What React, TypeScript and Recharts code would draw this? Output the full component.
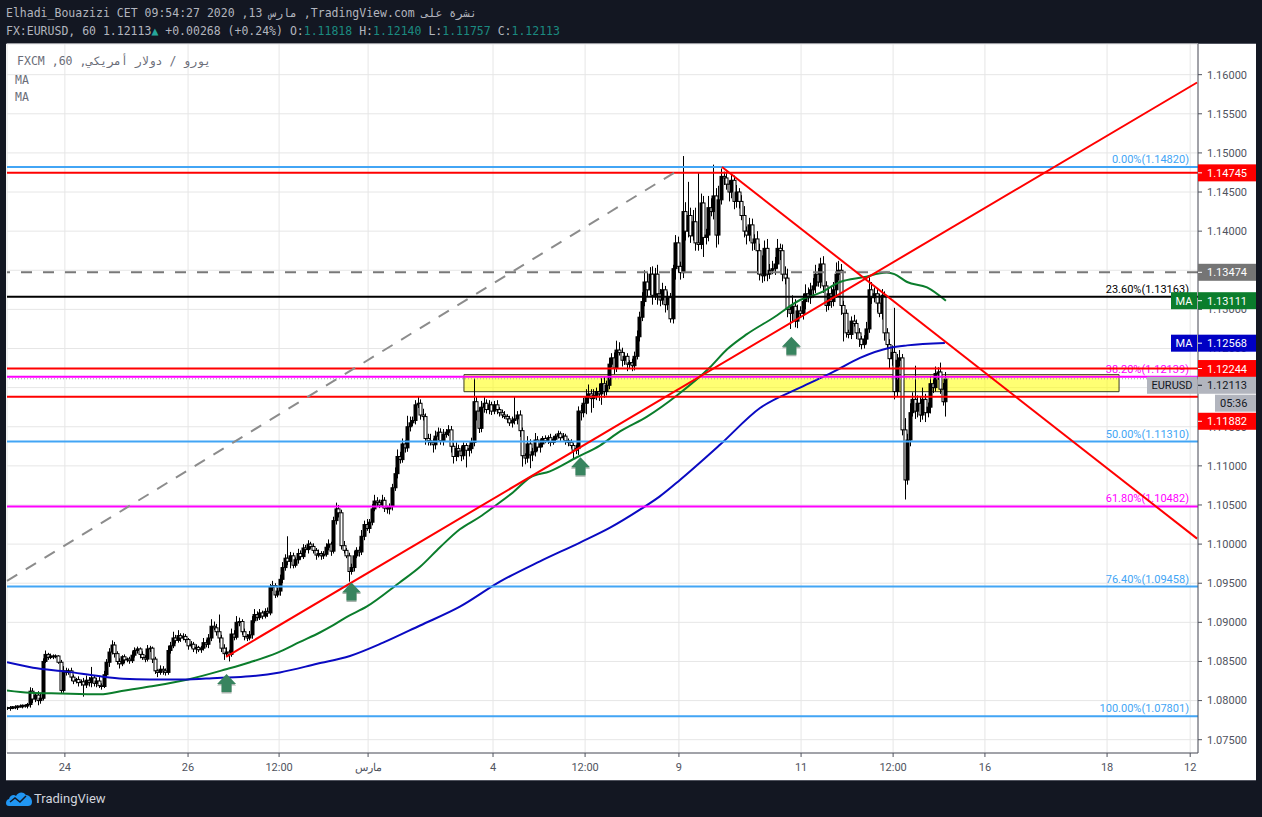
import { Bar, CartesianGrid, ComposedChart, Line, ReferenceArea, ReferenceDot, ReferenceLine, XAxis, YAxis } from "recharts";

// all prices in 1/10000 ("pips"), one candle per hour, open = previous close
const closePips = [
    10791,10790,10792,10791,10793,10792,10794,10793,10795,10812,
    10802,10807,10800,10803,10850,10859,10855,10857,10856,10857,
    10849,10813,10838,10836,10838,10830,10825,10827,10823,10824,
    10820,10826,10823,10829,10822,10825,10819,10818,10833,10849,
    10862,10871,10860,10850,10847,10856,10852,10853,10851,10858,
    10864,10866,10859,10855,10853,10866,10867,10853,10838,10836,
    10840,10838,10836,10864,10870,10880,10877,10883,10880,10882,
    10878,10870,10872,10866,10868,10865,10867,10874,10872,10880,
    10895,10893,10888,10880,10867,10860,10862,10859,10885,10881,
    10900,10901,10888,10882,10880,10884,10902,10910,10906,10912,
    10908,10914,10912,10945,10947,10935,10940,10955,10970,10982,
    10978,10985,10973,10980,10988,10984,10995,10993,11000,10997,
    10992,10986,10988,10985,10987,10996,11000,10991,11030,11045,
    11040,10998,10992,10985,10965,10970,10985,10992,10990,11010,
    11025,11020,11028,11045,11055,11053,11050,11056,11046,11045,
    11048,11072,11090,11112,11108,11128,11123,11150,11155,11158,
    11178,11180,11165,11163,11135,11132,11130,11127,11138,11143,
    11132,11140,11143,11146,11125,11112,11122,11119,11113,11126,
    11120,11122,11130,11182,11170,11148,11175,11180,11172,11178,
    11170,11178,11172,11168,11165,11163,11160,11155,11158,11160,
    11165,11145,11113,11110,11128,11114,11118,11133,11124,11128,
    11135,11132,11136,11130,11134,11138,11141,11136,11138,11132,
    11130,11126,11120,11122,11170,11168,11180,11188,11192,11186,
    11190,11195,11192,11205,11195,11203,11230,11238,11225,11248,
    11245,11235,11240,11230,11232,11228,11240,11265,11290,11310,
    11335,11325,11345,11318,11345,11320,11312,11325,11306,11315,
    11288,11352,11385,11355,11347,11425,11400,11420,11394,11412,
    11385,11383,11436,11392,11395,11430,11425,11445,11395,11440,
    11470,11468,11460,11450,11465,11438,11450,11438,11420,11400,
    11395,11408,11385,11390,11375,11345,11343,11378,11345,11350,
    11352,11358,11378,11375,11345,11340,11300,11295,11304,11285,
    11298,11295,11310,11320,11315,11325,11330,11345,11335,11358,
    11330,11305,11320,11310,11325,11345,11350,11305,11295,11270,
    11268,11285,11282,11270,11262,11255,11262,11275,11325,11315,
    11320,11308,11295,11318,11270,11255,11237,11245,11195,11235,
    11238,11146,11082,11133,11168,11185,11170,11180,11165,11185,
    11168,11175,11205,11200,11218,11220,11198,11182,11211,
];

const wickUp = [
    1,2,1,2,1,2,1,1,2,5,
    4,3,5,6,4,5,2,3,2,2,
    1,3,6,4,3,4,3,2,4,3,
    5,6,4,14,3,4,5,3,5,4,
    5,6,4,3,4,2,3,2,3,5,
    4,3,2,4,3,5,3,2,3,2,
    5,4,3,6,5,8,4,7,3,4,
    3,2,4,3,4,2,3,6,4,5,
    9,6,5,22,4,5,6,3,7,5,
    8,5,3,4,3,5,6,7,4,5,
    3,4,5,4,6,3,4,6,7,5,
    28,5,4,3,6,4,5,4,5,3,
    4,3,5,3,4,5,6,3,5,8,
    5,4,6,3,4,5,6,4,5,8,
    5,7,4,6,8,5,4,7,4,3,
    4,5,8,9,6,7,5,14,8,5,
    6,9,5,8,4,6,9,5,7,6,
    5,7,4,6,5,4,8,5,6,4,
    3,5,6,30,6,5,8,9,5,6,
    4,5,6,3,4,5,3,4,5,28,
    5,6,4,3,10,6,5,9,5,6,
    3,4,3,5,4,3,4,3,4,3,
    3,4,3,5,6,8,7,10,12,6,
    8,5,10,7,9,6,8,6,7,12,
    10,6,5,4,3,5,6,8,7,12,
    15,12,9,10,8,12,6,9,5,8,
    6,5,10,8,6,71,12,43,10,15,
    18,90,12,9,8,15,12,40,10,18,
    10,6,8,5,8,6,9,5,8,12,
    6,9,8,6,10,9,24,10,12,8,
    10,9,12,6,8,10,12,5,14,9,
    8,6,10,12,8,9,10,12,8,8,
    10,6,8,9,10,15,12,8,6,5,
    4,6,8,5,6,4,5,9,16,10,
    8,6,12,8,5,6,7,9,57,8,
    10,5,15,8,12,9,43,10,8,15,
    7,6,10,8,9,6,12,8,9,
];

const wickDown = [
    2,3,1,2,3,1,2,2,3,4,
    5,4,6,4,3,2,3,2,3,2,
    2,4,3,4,3,5,4,3,5,4,
    15,4,5,6,4,5,3,4,2,4,
    6,3,5,4,6,3,4,3,4,3,
    3,4,5,3,4,3,4,5,4,6,
    3,5,4,3,4,3,4,3,5,3,
    4,5,3,4,6,3,4,3,4,5,
    4,3,5,6,5,8,4,9,3,4,
    3,5,4,5,4,3,5,3,4,3,
    4,3,5,3,5,4,3,6,5,4,
    5,9,4,3,5,4,3,4,5,3,
    4,6,3,5,4,3,4,6,3,5,
    6,5,4,3,13,4,5,3,6,4,
    5,3,6,4,3,5,4,3,5,6,
    7,5,4,6,5,4,6,5,6,4,
    5,4,6,5,8,6,4,10,6,5,
    5,6,4,5,8,9,6,8,7,5,
    22,8,6,5,12,6,5,7,5,6,
    5,4,6,5,4,3,5,4,6,5,
    7,8,14,8,6,17,8,6,5,7,
    4,3,4,5,3,4,3,4,3,5,
    5,4,12,5,8,10,6,14,8,18,
    12,6,9,14,8,5,5,4,8,5,
    4,8,6,9,5,7,6,4,6,5,
    6,8,7,12,6,14,8,6,10,7,
    5,6,14,8,9,7,12,8,9,6,
    10,8,6,25,9,8,6,10,16,12,
    6,9,7,12,8,10,8,9,6,8,
    12,8,10,9,30,8,9,7,9,6,
    5,8,6,12,9,8,10,20,12,8,
    9,6,8,10,6,8,10,9,6,8,
    9,8,6,8,6,10,8,12,36,6,
    5,6,4,8,10,6,5,6,5,8,
    6,12,5,8,10,6,12,9,10,6,
    8,7,25,6,8,5,10,8,9,6,
    12,6,8,7,5,8,6,5,19,
];

const greenMaBars = [0,9,20.8,36.5,46.3,56,71,85.9,95.3,105.9,114.9,122.7,127.8,133.3,141,154,162,169.8,177.6,185.5,190.6,198.4,205.1,212.9,223.5,232.5,240.4,251,262.7,275.7,282.4,290,300.4,311,318.8,326.7,335.7,345,348,353,360.8,368.2];
const greenMaPips = [10813,10810,10809,10808,10813,10818,10827,10840,10849,10861,10875,10887,10896,10907,10920,10951,10971,10996,11019,11035,11047,11066,11085,11093,11111,11126,11144,11163,11190,11226,11249,11268,11289,11312,11321,11335,11341,11347,11345,11335,11328,11311];
const blueMaBars = [0,10.2,23.5,36.5,45.5,56,69,82.4,95.3,107,121.6,134.5,147.5,162,177.6,193.3,209,224.7,236.5,248.2,256,263.9,279.6,295.3,311,324,334.5,346.3,353,367.8];
const blueMaPips = [10849,10842,10837,10831,10828,10827,10827,10829,10831,10836,10847,10857,10874,10896,10920,10952,10978,11002,11021,11044,11061,11082,11127,11174,11200,11220,11238,11251,11254,11257];

// x axis
const xTicks = [22.7,71,106.7,141.6,190.6,226.7,263.5,311.4,347.5,383.5,431.4,464];
const xTickLabels = ["24","26","12:00","مارس","4","12:00","9","11","12:00","16","18","12"];
const yTicks = [1.075,1.08,1.085,1.09,1.095,1.1,1.105,1.11,1.115,1.12,1.125,1.13,1.135,1.14,1.145,1.15,1.155,1.16];

// fib levels
const fibPrices = [1.1482,1.13163,1.12139,1.1131,1.10482,1.09458,1.07801];
const fibLabels = ["0.00%(1.14820)","23.60%(1.13163)","38.20%(1.12139)","50.00%(1.11310)","61.80%(1.10482)","76.40%(1.09458)","100.00%(1.07801)"];
const redLevels = [1.14745,1.12244,1.11882];

// drawings, bar position + price
const dashedTrend = [{ x: 0, y: 1.0953 }, { x: 264.3, y: 1.148 }];
const riseTrend = [{ x: 85.9, y: 1.0856 }, { x: 466.7, y: 1.159 }];
const fallTrend = [{ x: 280.4, y: 1.1482 }, { x: 466.7, y: 1.1007 }];
const zoneBars = [179.2, 436.1];
const zonePrices = [1.11948, 1.12166];
const arrowBars = [86.1, 135.1, 224.9, 307.6];
const arrowPrices = [1.0834, 1.0951, 1.1111, 1.1265];

const xMax = 467.06;
const candles = closePips.map((close, index) => {
    const open = index === 0 ? 10790 : closePips[index - 1];
    const high = Math.max(open, close) + (wickUp[index] ?? 3);
    const low = Math.min(open, close) - (wickDown[index] ?? 3);
    return { index, open, close, high, low, range: [low / 10000, high / 10000] };
});
const greenMa = greenMaBars.map((index, i) => ({ index, value: greenMaPips[i] / 10000 }));
const blueMa = blueMaBars.map((index, i) => ({ index, value: blueMaPips[i] / 10000 }));

const fibColors = ["#42a5f5", "#000000", "#ff00ff", "#42a5f5", "#ff00ff", "#42a5f5", "#42a5f5"];
const axisFont = "Roboto, sans-serif";
const monoFont = "'DejaVu Sans Mono', monospace";

const Candle = (props: any) => {
    const { x, y, width, height, payload } = props;
    const top = Math.min(y, y + height);
    const perPip = Math.abs(height) / (payload.high - payload.low);
    const bodyTop = top + (payload.high - Math.max(payload.open, payload.close)) * perPip;
    const bodyBottom = top + (payload.high - Math.min(payload.open, payload.close)) * perPip;
    const cx = Math.round(x + width / 2);
    const rising = payload.close >= payload.open;
    return (
        <g>
            <line x1={cx + 0.5} x2={cx + 0.5} y1={top} y2={top + Math.abs(height)} stroke="#000" />
            <rect x={cx - 1} y={bodyTop} width={3} height={Math.max(bodyBottom - bodyTop, 0.5)} fill={rising ? "#000" : "#fff"} stroke="#000" />
        </g>
    );
};

const FibLabel = ({ viewBox, text, color }: any) => (
    <text x={viewBox.x + viewBox.width - 9} y={viewBox.y - 4} textAnchor="end" fontSize={11} fontFamily={axisFont} fill={color}>
        {text}
    </text>
);

const Arrow = ({ cx, cy }: any) => {
    const pts = (dx: number, dy: number) =>
        [[0, 0], [9.5, 10], [5, 10], [5, 18], [-5, 18], [-5, 10], [-9.5, 10]].map(([a, b]) => `${cx + a + dx},${cy + b + dy}`).join(" ");
    return (
        <g>
            <polygon points={pts(0, 1.5)} fill="#a9b4ae" />
            <polygon points={pts(0, 0)} fill="#38845f" />
        </g>
    );
};

const Badge = ({ cx, cy, text, fill, color = "#fff", tag, tagWidth = 26, from = 0 }: any) => (
    <g>
        <rect x={cx + from} y={cy - 8.5} width={58 - from} height={17} fill={fill} />
        {from === 0 && <line x1={cx} x2={cx + 4} y1={cy} y2={cy} stroke={color} />}
        <text x={from === 0 ? cx + 9 : cx + from + 5} y={cy + 4} fontSize={11} fontFamily={axisFont} fill={color}>{text}</text>
        {tag && <rect x={cx - tagWidth - 1} y={cy - 8.5} width={tagWidth} height={17} fill={fill} />}
        {tag && <text x={cx - tagWidth / 2 - 1} y={cy + 4} textAnchor="middle" fontSize={11} fontFamily={axisFont} fill={color}>{tag}</text>}
    </g>
);

const badgeZ = 2000;

const App = () => {
    return (
        <div style={{ position: "fixed", left: 0, top: 0, width: 1262, height: 817, background: "#131722", overflow: "hidden" }}>
            <div style={{ position: "absolute", left: 6, top: 43, width: 1250, height: 738, background: "#fff", borderTop: "1px solid #50535e", borderBottom: "1px solid #50535e", boxSizing: "border-box" }} />

            <div style={{ position: "absolute", left: 6, top: 6, display: "flex", gap: 7, fontFamily: monoFont, fontSize: 11.5, lineHeight: "14px", color: "#b2b5be", whiteSpace: "nowrap" }}>
                <span>Elhadi_Bouazizi</span>
                <span dir="rtl">نشرة على TradingView.com, مارس 13, 2020 09:54:27 CET</span>
            </div>
            <div style={{ position: "absolute", left: 6, top: 24, fontFamily: monoFont, fontSize: 11.5, lineHeight: "14px", color: "#b2b5be", whiteSpace: "nowrap" }}>
                FX:EURUSD, 60 1.12113<span style={{ color: "#26a69a" }}>▲</span> +0.00268 (+0.24%) O:<span style={{ color: "#1b8a80" }}>1.11818</span> H:<span style={{ color: "#1b8a80" }}>1.12140</span> L:<span style={{ color: "#1b8a80" }}>1.11757</span> C:<span style={{ color: "#1b8a80" }}>1.12113</span>
            </div>

            <ComposedChart
                width={1262}
                height={817}
                data={candles}
                margin={{ top: 44, right: 0, bottom: 0, left: 7 }}
                style={{ position: "absolute", left: 0, top: 0 }}
            >
                <CartesianGrid stroke="#e6e6e6" />
                <XAxis
                    dataKey="index"
                    type="number"
                    domain={[0, xMax]}
                    ticks={xTicks}
                    interval={0}
                    height={64}
                    allowDataOverflow
                    stroke="#50535e"
                    tickSize={4}
                    tickMargin={6}
                    tick={{ fontSize: 11, fontFamily: axisFont, fill: "#50535e" }}
                    tickFormatter={(value: number) => xTickLabels[xTicks.indexOf(value)]}
                />
                <YAxis
                    orientation="right"
                    type="number"
                    domain={[1.0733, 1.16392]}
                    ticks={yTicks}
                    interval={0}
                    width={64}
                    allowDataOverflow
                    stroke="#50535e"
                    tickSize={4}
                    tickMargin={5}
                    tick={{ fontSize: 11, fontFamily: axisFont, fill: "#50535e", textAnchor: "start" }}
                    tickFormatter={(value: number) => value.toFixed(5)}
                />
                <Bar dataKey="range" barSize={3} shape={Candle} isAnimationActive={false} />
                <Line data={greenMa} dataKey="value" type="monotone" stroke="#0b7d2c" strokeWidth={2} dot={false} activeDot={false} isAnimationActive={false} />
                <Line data={blueMa} dataKey="value" type="monotone" stroke="#0a0ac2" strokeWidth={2} dot={false} activeDot={false} isAnimationActive={false} />

                {fibPrices.map((price, i) => (
                    <ReferenceLine
                        key={fibLabels[i]}
                        y={price}
                        stroke={fibColors[i]}
                        strokeWidth={2}
                        label={<FibLabel text={fibLabels[i]} color={fibColors[i]} />}
                    />
                ))}
                {redLevels.map((price) => (
                    <ReferenceLine key={price} y={price} stroke="#ff0000" strokeWidth={2} />
                ))}
                <ReferenceLine y={1.13474} stroke="#787878" strokeWidth={2} strokeDasharray="11 11" />
                <ReferenceLine y={1.12113} stroke="#a0a3ab" strokeDasharray="1 2" />
                <ReferenceLine segment={dashedTrend} stroke="#8c8c8c" strokeWidth={2} strokeDasharray="12 10" />
                <ReferenceLine segment={riseTrend} stroke="#ff0000" strokeWidth={2} />
                <ReferenceLine segment={fallTrend} stroke="#ff0000" strokeWidth={2} />
                <ReferenceArea
                    x1={zoneBars[0]}
                    x2={zoneBars[1]}
                    y1={zonePrices[0]}
                    y2={zonePrices[1]}
                    fill="#ffff00"
                    fillOpacity={0.55}
                    stroke="#3c3c1e"
                    strokeOpacity={1}
                />
                {arrowBars.map((bar, i) => (
                    <ReferenceDot key={bar} x={bar} y={arrowPrices[i]} ifOverflow="visible" shape={Arrow} />
                ))}

                <ReferenceDot zIndex={badgeZ} x={xMax} y={1.14745} ifOverflow="visible" shape={(p: any) => <Badge {...p} text="1.14745" fill="#ff0000" />} />
                <ReferenceDot zIndex={badgeZ} x={xMax} y={1.13474} ifOverflow="visible" shape={(p: any) => <Badge {...p} text="1.13474" fill="#757575" />} />
                <ReferenceDot zIndex={badgeZ} x={xMax} y={1.13111} ifOverflow="visible" shape={(p: any) => <Badge {...p} text="1.13111" fill="#0b7d2c" tag="MA" />} />
                <ReferenceDot zIndex={badgeZ} x={xMax} y={1.12568} ifOverflow="visible" shape={(p: any) => <Badge {...p} text="1.12568" fill="#0000c4" tag="MA" />} />
                <ReferenceDot zIndex={badgeZ} x={xMax} y={1.12244} ifOverflow="visible" shape={(p: any) => <Badge {...p} text="1.12244" fill="#ff0000" />} />
                <ReferenceDot zIndex={badgeZ} x={xMax} y={1.1203} ifOverflow="visible" shape={(p: any) => <Badge {...p} text="1.12113" fill="#b2b5be" color="#131722" tag="EURUSD" tagWidth={50} />} />
                <ReferenceDot zIndex={badgeZ} x={xMax} y={1.11801} ifOverflow="visible" shape={(p: any) => <Badge {...p} text="05:36" fill="#b2b5be" color="#131722" from={17} />} />
                <ReferenceDot zIndex={badgeZ} x={xMax} y={1.1157} ifOverflow="visible" shape={(p: any) => <Badge {...p} text="1.11882" fill="#ff0000" />} />
            </ComposedChart>

            <div style={{ position: "absolute", left: 15, top: 54, width: 196, fontFamily: monoFont, fontSize: 11.5, lineHeight: "14px", color: "#6a6d78", whiteSpace: "nowrap", textAlign: "right" }} dir="rtl">
                يورو / دولار أمريكي, 60, FXCM
            </div>
            <div style={{ position: "absolute", left: 15, top: 73, fontFamily: monoFont, fontSize: 11.5, lineHeight: "14px", color: "#6a6d78" }}>MA</div>
            <div style={{ position: "absolute", left: 15, top: 90, fontFamily: monoFont, fontSize: 11.5, lineHeight: "14px", color: "#6a6d78" }}>MA</div>

            <svg width={27} height={16} style={{ position: "absolute", left: 6, top: 791 }}>
                <path d="M3 15 C-1 15 -1 9 3 8 C4 4 8 3 10 5 C12 1 17 0 20 4 C24 4 26 8 26 11 C26 14 24 15 22 15 Z" fill="#2196f3" />
                <path d="M4 11 L9 7 L14 11 L20 5" stroke="#131722" strokeWidth={1.5} fill="none" />
            </svg>
            <div style={{ position: "absolute", left: 34, top: 791, fontFamily: axisFont, fontSize: 13, lineHeight: "16px", color: "#d1d4dc" }}>TradingView</div>
        </div>
    );
};

export default App;
